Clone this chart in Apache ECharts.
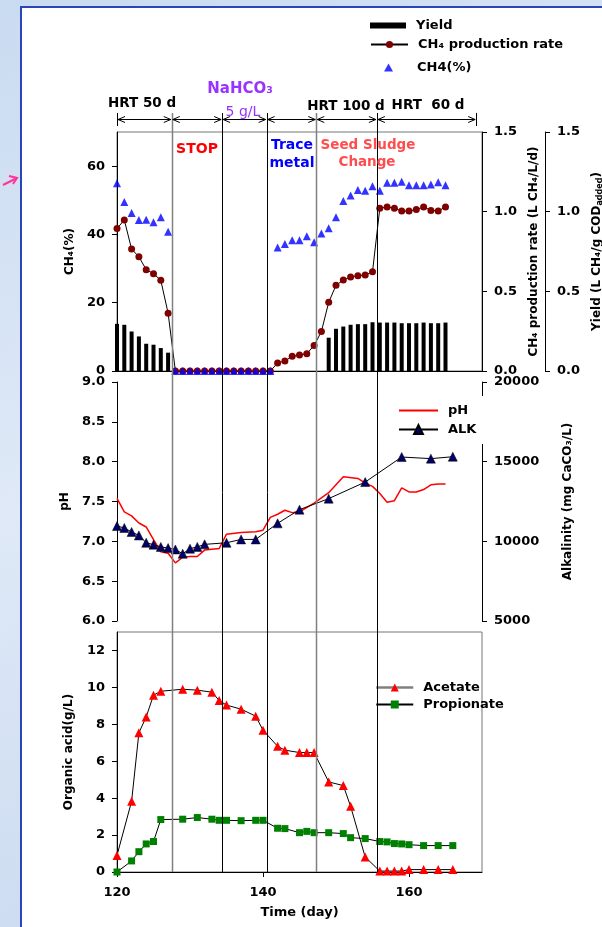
<!DOCTYPE html>
<html>
<head>
<meta charset="utf-8">
<script src="https://cdn.jsdelivr.net/npm/echarts@6/dist/echarts.min.js"></script>
<style>
  html, body { margin: 0; padding: 0; }
  body {
    width: 602px; height: 927px; overflow: hidden; position: relative;
    background: linear-gradient(160deg, #c9dbf1 0%, #dfe9f7 45%, #c4d6ee 100%);
  }
  .panel {
    position: absolute; left: 20px; top: 6px; width: 600px; height: 940px;
    background: #fff; border: 2px solid #2a45b8; box-sizing: border-box;
  }
  #chart { position: absolute; left: 0; top: 0; width: 602px; height: 927px; }
</style>
</head>
<body>
<div class="panel"></div>
<div id="chart"></div>
<script>
// ---- data ----
// top panel, daily samples
const topDays = [120, 121, 122, 123, 124, 125, 126, 127,
  128, 129, 130, 131, 132, 133, 134, 135, 136, 137, 138, 139, 140, 141,
  142, 143, 144, 145, 146, 147, 148, 149, 150, 151, 152, 153, 154, 155,
  156, 157, 158, 159, 160, 161, 162, 163, 164, 165]
const ch4Percent = [55.0, 49.5, 46.3, 44.2, 44.3, 43.6, 45.0, 40.8,
  0, 0, 0, 0, 0, 0, 0, 0, 0, 0, 0, 0, 0, 0,
  36.2, 37.2, 38.3, 38.3, 39.5, 37.7, 40.3, 41.8, 45.0, 49.8, 51.4, 53.0, 52.8, 54.1,
  52.8, 55.1, 55.1, 55.4, 54.4, 54.4, 54.4, 54.6, 55.3, 54.4]
const ch4Rate = [0.894, 0.948, 0.765, 0.717, 0.636, 0.611, 0.569, 0.363,
  0, 0, 0, 0, 0, 0, 0, 0, 0, 0, 0, 0, 0, 0,
  0.05, 0.063, 0.092, 0.10, 0.109, 0.16, 0.248, 0.431, 0.538, 0.571, 0.59, 0.598, 0.602, 0.623,
  1.021, 1.03, 1.021, 1.004, 1.004, 1.013, 1.03, 1.008, 1.004, 1.03]
const yieldDays = [120, 121, 122, 123, 124, 125, 126, 127,
  149, 150, 151, 152, 153, 154, 155, 156, 157, 158, 159, 160, 161, 162, 163, 164, 165]
const yieldValues = [0.296, 0.29, 0.248, 0.217, 0.171, 0.165, 0.144, 0.115,
  0.209, 0.265, 0.279, 0.29, 0.294, 0.294, 0.306, 0.304, 0.304, 0.304, 0.3, 0.3, 0.3, 0.304, 0.3, 0.3, 0.304]

// middle panel
const phDays = [120, 121, 122, 123, 124, 125, 126, 127, 128, 129, 130, 131, 132, 133, 134, 135, 137, 139, 140,
  141, 142, 143, 144, 145, 147, 149, 151, 153, 154, 155, 156, 157, 158, 159, 160, 161, 162, 163, 164, 165]
const phValues = [7.54, 7.37, 7.32, 7.23, 7.18, 7.02, 6.87, 6.85, 6.73, 6.80, 6.81, 6.81, 6.89, 6.90, 6.91, 7.09, 7.11, 7.12, 7.14,
  7.30, 7.34, 7.39, 7.36, 7.37, 7.48, 7.61, 7.81, 7.79, 7.73, 7.69, 7.60, 7.49, 7.51, 7.67, 7.62, 7.62, 7.65, 7.71, 7.72, 7.72]
const alkDays = [120, 121, 122, 123, 124, 125, 126, 127, 128, 129, 130, 131, 132, 135, 137, 139, 142, 145, 149, 154, 159, 163, 166]
const alkValues = [10960, 10840, 10590, 10370, 9910, 9790, 9650, 9580, 9490, 9220, 9540, 9650, 9810, 9910, 10120, 10120,
  11130, 11990, 12680, 13720, 15290, 15190, 15310]

// bottom panel
const acetateDays = [120, 122, 123, 124, 125, 126, 129, 131, 133, 134, 135, 137, 139, 140, 142, 143, 145, 146, 147,
  149, 151, 152, 154, 156, 157, 158, 159, 160, 162, 164, 166]
const acetateValues = [0.9, 3.83, 7.54, 8.4, 9.58, 9.79, 9.9, 9.85, 9.74, 9.29, 9.04, 8.82, 8.44, 7.68, 6.81, 6.6, 6.47, 6.47, 6.47,
  4.88, 4.68, 3.56, 0.81, 0.05, 0.05, 0.05, 0.05, 0.13, 0.13, 0.13, 0.13]
const propionateDays = [120, 122, 123, 124, 125, 126, 129, 131, 133, 134, 135, 137, 139, 140, 142, 143, 145, 146, 147,
  149, 151, 152, 154, 156, 157, 158, 159, 160, 162, 164, 166]
const propionateValues = [0, 0.6, 1.1, 1.52, 1.65, 2.84, 2.86, 2.95, 2.86, 2.8, 2.8, 2.78, 2.8, 2.8, 2.37, 2.35, 2.13, 2.2, 2.13,
  2.13, 2.08, 1.86, 1.81, 1.65, 1.63, 1.54, 1.52, 1.48, 1.43, 1.43, 1.43]

// phase boundaries (day) and the span of the HRT arrows
const phaseBounds = [127.5, 134.4, 140.5, 147.3, 155.6]
const phaseColors = ['#808080', '#000', '#000', '#808080', '#000']
const arrowStops = [120, 127.5, 134.4, 140.5, 147.3, 155.6, 169.2]

const ch4Ticks = [0, 20, 40, 60]
const acidTicks = [0, 2, 4, 6, 8, 10, 12]
const timeTicks = [120, 140, 160]

// ---- chart ----
const FONT = 'DejaVu Sans'
const chart = echarts.init(document.getElementById('chart'), null, { renderer: 'canvas' })

function pairs (xs, ys) {
  return xs.map((x, i) => [x, ys[i]])
}
const fixed1 = v => v.toFixed(1)
const plain = v => String(v)

const labelStyle = { color: '#000', fontFamily: FONT, fontWeight: 'bold', fontSize: 13 }
const nameStyle = { color: '#000', fontFamily: FONT, fontWeight: 'bold', fontSize: 12 }
const blackLine = { show: true, lineStyle: { color: '#000', width: 1 } }
const tick = { show: true, length: 5, lineStyle: { color: '#000' } }

function yAxis (extra) {
  return Object.assign({
    type: 'value',
    axisLine: blackLine,
    axisTick: tick,
    splitLine: { show: false },
    axisLabel: Object.assign({ margin: 12, formatter: plain }, labelStyle),
    nameLocation: 'middle',
    nameRotate: 90,
    nameTextStyle: nameStyle
  }, extra)
}

const legendText = Object.assign({ padding: [0, 0, 0, 5] }, labelStyle)

const option = {
  animation: false,
  backgroundColor: 'transparent',
  grid: [
    { left: 117, right: 120, top: 132, height: 239, show: true, borderColor: '#777', borderWidth: 1,
      outerBoundsMode: 'none' },
    { left: 117, right: 120, top: 382, height: 239, outerBoundsMode: 'none' },
    { left: 117, right: 120, top: 632, height: 240, show: true, borderColor: '#777', borderWidth: 1,
      outerBoundsMode: 'none' }
  ],
  xAxis: [
    { gridIndex: 0, type: 'value', min: 120, max: 170, axisLine: blackLine, axisTick: { show: false },
      axisLabel: { show: false }, splitLine: { show: false } },
    { gridIndex: 1, type: 'value', min: 120, max: 170, show: false },
    { gridIndex: 2, type: 'value', min: 120, max: 170, axisLine: blackLine,
      axisTick: Object.assign({ customValues: timeTicks }, tick),
      axisLabel: Object.assign({ customValues: timeTicks, margin: 14, formatter: plain }, labelStyle),
      splitLine: { show: false },
      name: 'Time (day)', nameLocation: 'middle', nameGap: 34,
      nameTextStyle: Object.assign({}, labelStyle) }
  ],
  yAxis: [
    yAxis({ gridIndex: 0, position: 'left', min: 0, max: 70,
      axisTick: Object.assign({ customValues: ch4Ticks }, tick),
      axisLabel: Object.assign({ customValues: ch4Ticks, margin: 12, formatter: plain }, labelStyle),
      name: 'CH₄(%)', nameGap: 40 }),
    yAxis({ gridIndex: 0, position: 'right', min: 0, max: 1.5, interval: 0.5,
      axisLabel: Object.assign({ margin: 12, formatter: fixed1 }, labelStyle),
      name: 'CH₄ production rate (L CH₄/L/d)', nameGap: 39 }),
    yAxis({ gridIndex: 0, position: 'right', offset: 63, min: 0, max: 1.5, interval: 0.5,
      axisLabel: Object.assign({ margin: 12, formatter: fixed1 }, labelStyle),
      name: 'Yield (L CH₄/g COD{s|added})', nameGap: 44,
      nameTextStyle: Object.assign({
        rich: { s: { fontFamily: FONT, fontWeight: 'bold', fontSize: 8, verticalAlign: 'bottom', padding: [6, 0, 0, 0] } }
      }, nameStyle) }),
    yAxis({ gridIndex: 1, position: 'left', min: 6, max: 9, interval: 0.5,
      axisLabel: Object.assign({ margin: 12, formatter: fixed1 }, labelStyle),
      name: 'pH', nameGap: 46 }),
    yAxis({ gridIndex: 1, position: 'right', min: 5000, max: 20000, interval: 5000,
      name: 'Alkalinity (mg CaCO₃/L)', nameGap: 80 }),
    yAxis({ gridIndex: 2, position: 'left', min: 0, max: 13,
      axisTick: Object.assign({ customValues: acidTicks }, tick),
      axisLabel: Object.assign({ customValues: acidTicks, margin: 12, formatter: plain }, labelStyle),
      name: 'Organic acid(g/L)', nameGap: 42 })
  ],
  legend: [
    { data: [{ name: 'Yield', icon: 'rect' }], left: 370, top: 19, padding: 0, itemWidth: 36, itemHeight: 6,
      textStyle: legendText, selectedMode: false },
    { data: ['CH₄ production rate'], left: 370, top: 38, padding: 0, itemWidth: 37, itemHeight: 9,
      textStyle: legendText, selectedMode: false },
    { data: ['CH4(%)'], left: 384, top: 61, padding: 0, itemWidth: 9, itemHeight: 8,
      textStyle: Object.assign({}, labelStyle, { padding: [0, 0, 0, 19] }), selectedMode: false },
    { data: [{ name: 'pH', itemStyle: { opacity: 0 } }, 'ALK'], orient: 'vertical', left: 398, top: 396,
      padding: [8, 12, 8, 0], itemGap: 6, itemWidth: 39, itemHeight: 11, backgroundColor: '#fff',
      textStyle: legendText, selectedMode: false },
    { data: [{ name: 'Acetate', lineStyle: { color: '#808080', width: 2.5 } }, 'Propionate'],
      orient: 'vertical', left: 375, top: 681, padding: 0, itemGap: 4, itemWidth: 37, itemHeight: 10,
      textStyle: legendText, selectedMode: false }
  ],
  series: [
    { name: 'Yield', type: 'bar', xAxisIndex: 0, yAxisIndex: 2, data: pairs(yieldDays, yieldValues),
      barWidth: 4, itemStyle: { color: '#000' } },
    { name: 'CH₄ production rate', type: 'line', xAxisIndex: 0, yAxisIndex: 1, data: pairs(topDays, ch4Rate),
      symbol: 'circle', symbolSize: 7, itemStyle: { color: '#800000' },
      lineStyle: { color: '#000', width: 1 }, z: 3 },
    { name: 'CH4(%)', type: 'scatter', xAxisIndex: 0, yAxisIndex: 0, data: pairs(topDays, ch4Percent),
      symbol: 'triangle', symbolSize: 8, itemStyle: { color: '#0000ff' }, z: 4 },
    { name: 'pH', type: 'line', xAxisIndex: 1, yAxisIndex: 3, data: pairs(phDays, phValues),
      showSymbol: false, symbol: 'circle', itemStyle: { color: '#ff0000' },
      lineStyle: { color: '#ff0000', width: 1.5 } },
    { name: 'ALK', type: 'line', xAxisIndex: 1, yAxisIndex: 4, data: pairs(alkDays, alkValues),
      symbol: 'triangle', symbolSize: 9, itemStyle: { color: '#000066', borderColor: '#000', borderWidth: 0.5 },
      lineStyle: { color: '#000', width: 1 }, z: 3 },
    { name: 'Acetate', type: 'line', xAxisIndex: 2, yAxisIndex: 5, data: pairs(acetateDays, acetateValues),
      symbol: 'triangle', symbolSize: 9, itemStyle: { color: '#ff0000' },
      lineStyle: { color: '#000', width: 1 } },
    { name: 'Propionate', type: 'line', xAxisIndex: 2, yAxisIndex: 5, data: pairs(propionateDays, propionateValues),
      symbol: 'rect', symbolSize: 7, itemStyle: { color: '#008000' },
      lineStyle: { color: '#000', width: 1 } }
  ]
}
chart.setOption(option)

// ---- phase lines, HRT arrows and notes, placed with the x scale ----
const xPix = d => chart.convertToPixel({ xAxisIndex: 0 }, d)
const graphics = []
const line = (x1, y1, x2, y2, color, width) => ({
  type: 'line', z: 10, silent: true,
  shape: { x1: x1, y1: y1, x2: x2, y2: y2 },
  style: { stroke: color, lineWidth: width }
})
phaseBounds.forEach((d, i) => {
  const x = Math.round(xPix(d)) + 0.5
  graphics.push(line(x, 113, x, 872, phaseColors[i], phaseColors[i] === '#000' ? 1 : 1.5))
})
const arrowY = 119.5
const ends = [arrowStops[0], arrowStops[arrowStops.length - 1]]
ends.forEach(d => {
  const x = Math.round(xPix(d)) + 0.5
  graphics.push(line(x, 113, x, 126, '#000', 1))
})
for (let i = 0; i < arrowStops.length - 1; i++) {
  const a = xPix(arrowStops[i]) + 1
  const b = xPix(arrowStops[i + 1]) - 1
  graphics.push(line(a, arrowY, b, arrowY, '#000', 1))
  graphics.push({ type: 'polyline', z: 10, silent: true,
    shape: { points: [[a + 7, arrowY - 3], [a, arrowY], [a + 7, arrowY + 3]] },
    style: { stroke: '#000', lineWidth: 1, fill: null } })
  graphics.push({ type: 'polyline', z: 10, silent: true,
    shape: { points: [[b - 7, arrowY - 3], [b, arrowY], [b - 7, arrowY + 3]] },
    style: { stroke: '#000', lineWidth: 1, fill: null } })
}
const note = (text, x, y, color, font) => ({
  type: 'text', z: 11, silent: true, x: x, y: y,
  style: { text: text, fill: color, font: font, align: 'center', verticalAlign: 'middle' }
})
const B = 'bold 13.5px "DejaVu Sans"'
graphics.push(note('HRT 50 d', 142, 103, '#000', B))
graphics.push(note('NaHCO₃', 240, 89, '#9933ff', 'bold 15px "DejaVu Sans"'))
graphics.push(note('5 g/L', 243, 112, '#9933ff', '14px "DejaVu Sans"'))
graphics.push(note('HRT 100 d', 346, 106, '#000', B))
graphics.push(note('HRT  60 d', 428, 105, '#000', B))
graphics.push(note('STOP', 197, 149, '#ff0000', 'bold 14px "DejaVu Sans"'))
graphics.push(note('Trace', 292, 145, '#0000ff', 'bold 14px "DejaVu Sans"'))
graphics.push(note('metal', 292, 163, '#0000ff', 'bold 14px "DejaVu Sans"'))
graphics.push(note('Seed Sludge', 368, 145, '#ff4d4d', B))
graphics.push(note('Change', 367, 162, '#ff4d4d', B))
// pink pointer at the left edge
graphics.push({ type: 'polyline', z: 10, silent: true,
  shape: { points: [[3, 185], [17, 178]] }, style: { stroke: '#ff3399', lineWidth: 2, fill: null } })
graphics.push({ type: 'polyline', z: 10, silent: true,
  shape: { points: [[9, 176], [17, 178], [13, 184]] }, style: { stroke: '#ff3399', lineWidth: 2, fill: null } })

chart.setOption({ graphic: graphics })
</script>
</body>
</html>
